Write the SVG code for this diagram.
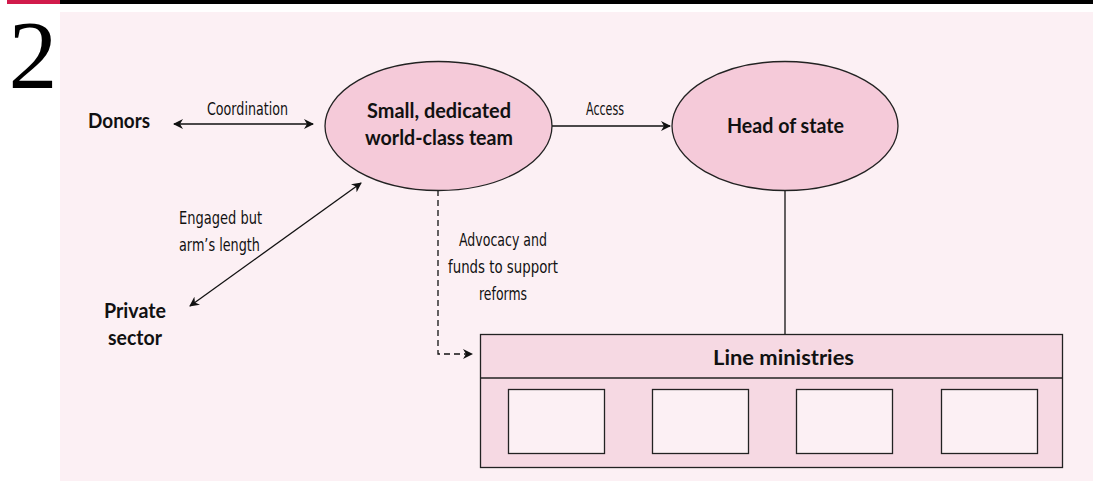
<svg xmlns="http://www.w3.org/2000/svg" width="1096" height="481" viewBox="0 0 1096 481">
<style>
.lbl{font-family:"DejaVu Sans","Liberation Sans",sans-serif;font-size:18px;fill:#111;text-anchor:middle}
.bold{font-family:Lato,"Liberation Sans",sans-serif;font-weight:bold;font-size:20px;fill:#111;text-anchor:middle}
.ell{fill:#f5cad9;stroke:#222;stroke-width:1.3}
.conn{stroke:#111;stroke-width:1.3;fill:none}
</style>
<defs>
<marker id="ah" viewBox="0 0 10 10" refX="9" refY="5" markerWidth="10" markerHeight="10" markerUnits="userSpaceOnUse" orient="auto-start-reverse">
<path d="M0,0 L10,5 L0,10 L3,5 Z" fill="#111"/>
</marker>
</defs>
<rect x="7" y="0" width="53" height="4" fill="#d11a4b"/>
<rect x="60" y="0" width="1033" height="4" fill="#000"/>
<rect x="60" y="12" width="1033" height="469" fill="#fcf0f4"/>
<text x="33" y="88" font-family="Liberation Serif,serif" font-size="98" text-anchor="middle" fill="#000">2</text>

<g id="connectors">
<line class="conn" x1="174" y1="124" x2="313" y2="124" marker-start="url(#ah)" marker-end="url(#ah)"/>
<line class="conn" x1="552" y1="126" x2="670" y2="126" marker-end="url(#ah)"/>
<line class="conn" x1="190" y1="306" x2="361" y2="183" marker-start="url(#ah)" marker-end="url(#ah)"/>
<path class="conn" d="M438,190 V354 H472" stroke-dasharray="6,4" marker-end="url(#ah)"/>
<line class="conn" x1="785" y1="190" x2="785" y2="334"/>
<text class="lbl" x="247.5" y="115" textLength="81" lengthAdjust="spacingAndGlyphs">Coordination</text>
<text class="lbl" x="605" y="115" textLength="38" lengthAdjust="spacingAndGlyphs">Access</text>
<text class="lbl" x="220.5" y="224" textLength="83" lengthAdjust="spacingAndGlyphs">Engaged but</text>
<text class="lbl" x="219.5" y="251" textLength="81" lengthAdjust="spacingAndGlyphs">arm’s length</text>
<text class="lbl" x="503" y="246" textLength="88" lengthAdjust="spacingAndGlyphs">Advocacy and</text>
<text class="lbl" x="503" y="273" textLength="110" lengthAdjust="spacingAndGlyphs">funds to support</text>
<text class="lbl" x="503" y="300" textLength="48" lengthAdjust="spacingAndGlyphs">reforms</text>
</g>

<g id="donors"><text class="bold" x="119" y="128" textLength="62" lengthAdjust="spacingAndGlyphs">Donors</text></g>
<g id="private-sector">
<text class="bold" x="135" y="318" textLength="62" lengthAdjust="spacingAndGlyphs">Private</text>
<text class="bold" x="135" y="345" textLength="54" lengthAdjust="spacingAndGlyphs">sector</text>
</g>
<g id="team">
<ellipse class="ell" cx="438.5" cy="126" rx="113.5" ry="64.5"/>
<text class="bold" x="439" y="118" textLength="144" lengthAdjust="spacingAndGlyphs">Small, dedicated</text>
<text class="bold" x="439" y="145" textLength="148" lengthAdjust="spacingAndGlyphs">world-class team</text>
</g>
<g id="head-of-state">
<ellipse class="ell" cx="785" cy="126" rx="113" ry="64.5"/>
<text class="bold" x="785.5" y="133" textLength="117" lengthAdjust="spacingAndGlyphs">Head of state</text>
</g>
<g id="line-ministries">
<rect x="480.5" y="334.5" width="582" height="133" fill="#f6d9e3" stroke="#222" stroke-width="1.3"/>
<line x1="480.5" y1="378" x2="1062.5" y2="378" stroke="#222" stroke-width="1.3"/>
<text class="bold" x="783.5" y="365" textLength="141" lengthAdjust="spacingAndGlyphs">Line ministries</text>
<rect x="508.5" y="389.5" width="96" height="64" fill="#fcf0f4" stroke="#222" stroke-width="1.3"/>
<rect x="652.5" y="389.5" width="96" height="64" fill="#fcf0f4" stroke="#222" stroke-width="1.3"/>
<rect x="796.5" y="389.5" width="96" height="64" fill="#fcf0f4" stroke="#222" stroke-width="1.3"/>
<rect x="941.5" y="389.5" width="96" height="64" fill="#fcf0f4" stroke="#222" stroke-width="1.3"/>
</g>
</svg>
